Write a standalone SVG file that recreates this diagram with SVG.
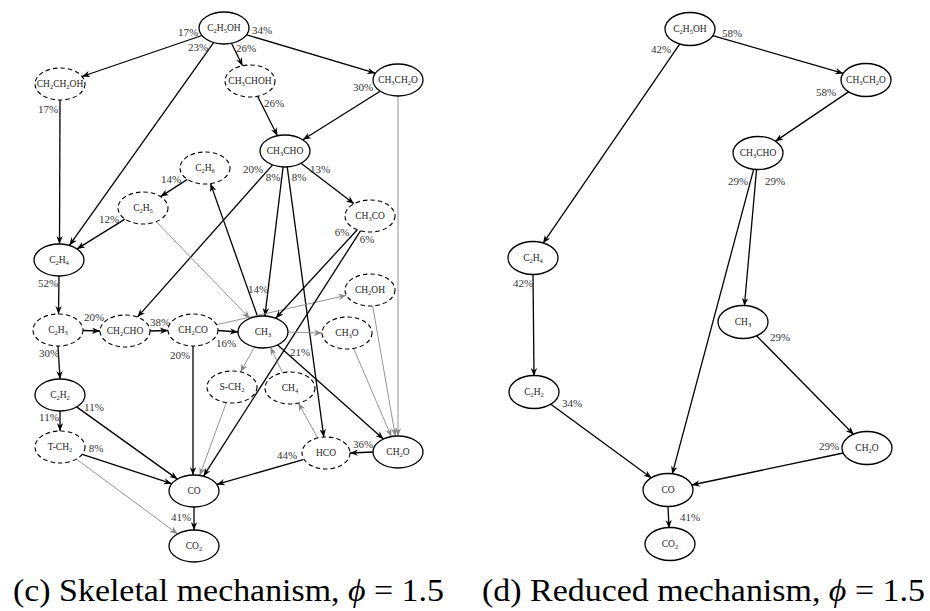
<svg xmlns="http://www.w3.org/2000/svg" width="930" height="611" viewBox="0 0 930 611">
<style>
.n{fill:#fff;stroke:#000;stroke-width:1.3}
.d{fill:#fff;stroke:#000;stroke-width:1.1;stroke-dasharray:4.5 3}
.e{stroke:#000;stroke-width:1.3;fill:none;marker-end:url(#ah)}
.g{stroke:#888;stroke-width:0.9;fill:none;marker-end:url(#ag)}
.t{font-family:"Liberation Serif","DejaVu Serif",serif;font-size:9.5px;fill:#222;text-anchor:middle}
.s{font-size:6.5px}
.p{font-family:"Liberation Serif","DejaVu Serif",serif;font-size:11px;fill:#333;text-anchor:middle}
.c{font-family:"Liberation Serif","DejaVu Serif",serif;font-size:31px;fill:#000}
</style>
<defs>
<marker id="ah" viewBox="0 0 10 8" refX="10" refY="4" markerWidth="8" markerHeight="6.4" orient="auto" markerUnits="userSpaceOnUse"><path d="M0,0 L10,4 L0,8 L3,4 z" fill="#000"/></marker>
<marker id="ag" viewBox="0 0 10 8" refX="10" refY="4" markerWidth="8" markerHeight="6.4" orient="auto" markerUnits="userSpaceOnUse"><path d="M0,0 L10,4 L0,8 L3,4 z" fill="#888"/></marker>
</defs>
<rect width="930" height="611" fill="#fff"/>

<g id="connectors">
<!-- left -->
<line class="e" x1="202" y1="35.5" x2="82" y2="76.5"/>
<line class="e" x1="213.6" y1="42.6" x2="69.4" y2="245.4"/>
<line class="e" x1="231.5" y1="43.3" x2="242.5" y2="65.7"/>
<line class="e" x1="246.7" y1="34.8" x2="375.3" y2="73.2"/>
<line class="e" x1="60" y1="100" x2="59.5" y2="244"/>
<line class="e" x1="257.6" y1="96.3" x2="277.4" y2="135.7"/>
<line class="e" x1="380.1" y1="91.2" x2="302.9" y2="139.8"/>
<line class="g" x1="398" y1="96" x2="398" y2="436"/>
<line class="e" x1="272.6" y1="164.9" x2="137.4" y2="317.1"/>
<line class="e" x1="283.1" y1="166.9" x2="264.9" y2="316.1"/>
<line class="e" x1="287.2" y1="166.9" x2="323.8" y2="437.1"/>
<line class="e" x1="301" y1="163.3" x2="354" y2="203.7"/>
<line class="e" x1="257.5" y1="316.4" x2="210.5" y2="183.6"/>
<line class="e" x1="187.4" y1="179.4" x2="160.6" y2="196.6"/>
<line class="e" x1="125" y1="219.1" x2="77" y2="248.9"/>
<line class="g" x1="156.2" y1="221.6" x2="249.8" y2="318.4"/>
<line class="e" x1="59" y1="276" x2="58.5" y2="314"/>
<line class="e" x1="83" y1="330.5" x2="100" y2="331"/>
<line class="e" x1="58" y1="346" x2="60" y2="379"/>
<line class="e" x1="150" y1="331" x2="168" y2="330.5"/>
<line class="e" x1="218" y1="330.5" x2="238" y2="332"/>
<line class="g" x1="216.6" y1="324.7" x2="346.4" y2="295.3"/>
<line class="e" x1="193" y1="346" x2="193" y2="475"/>
<line class="e" x1="357.3" y1="229.8" x2="275.7" y2="318.2"/>
<line class="e" x1="360.5" y1="230.8" x2="203.5" y2="476.2"/>
<line class="g" x1="288" y1="332" x2="322" y2="333"/>
<line class="g" x1="254.5" y1="347" x2="240.5" y2="372"/>
<line class="g" x1="282.6" y1="372.7" x2="270.4" y2="347.3"/>
<line class="e" x1="277.6" y1="345" x2="383.4" y2="439"/>
<line class="g" x1="317.6" y1="437.9" x2="298.4" y2="403.1"/>
<line class="g" x1="353.6" y1="348.4" x2="391.4" y2="436.6"/>
<line class="g" x1="372.7" y1="305.9" x2="395.3" y2="436.1"/>
<line class="e" x1="373" y1="452" x2="350" y2="453"/>
<line class="e" x1="303.2" y1="459.6" x2="216.8" y2="484.4"/>
<line class="e" x1="76.6" y1="406.9" x2="177.4" y2="479.1"/>
<line class="e" x1="60" y1="411" x2="60" y2="431"/>
<line class="e" x1="82.3" y1="454.3" x2="171.7" y2="483.7"/>
<line class="g" x1="76.4" y1="459.1" x2="177.6" y2="533.9"/>
<line class="g" x1="226.3" y1="402.6" x2="199.7" y2="475.4"/>
<line class="e" x1="194" y1="507" x2="194" y2="530"/>
<!-- right -->
<line class="e" x1="712.7" y1="35.6" x2="843.3" y2="73.4"/>
<line class="e" x1="680" y1="43.7" x2="543" y2="243.3"/>
<line class="e" x1="848.8" y1="91.6" x2="775.2" y2="141.4"/>
<line class="e" x1="753.8" y1="168.8" x2="672.2" y2="474.2"/>
<line class="e" x1="756.6" y1="169" x2="744.4" y2="306"/>
<line class="e" x1="533" y1="274" x2="534" y2="376"/>
<line class="e" x1="550.5" y1="404" x2="651.5" y2="478"/>
<line class="e" x1="756.3" y1="335.5" x2="853.7" y2="434.5"/>
<line class="e" x1="843.3" y1="453" x2="691.7" y2="485"/>
<line class="e" x1="668" y1="506" x2="669" y2="528"/>
</g>

<g id="edge-labels">
<text class="p" x="188" y="36">17%</text>
<text class="p" x="198" y="51">23%</text>
<text class="p" x="246" y="52">26%</text>
<text class="p" x="262" y="34">34%</text>
<text class="p" x="48" y="113">17%</text>
<text class="p" x="274" y="107">26%</text>
<text class="p" x="363" y="91">30%</text>
<text class="p" x="253" y="173">20%</text>
<text class="p" x="273" y="181">8%</text>
<text class="p" x="299" y="181">8%</text>
<text class="p" x="320" y="173">13%</text>
<text class="p" x="171" y="183">14%</text>
<text class="p" x="109" y="223">12%</text>
<text class="p" x="258" y="293">14%</text>
<text class="p" x="342" y="236">6%</text>
<text class="p" x="367" y="243">6%</text>
<text class="p" x="48" y="287">52%</text>
<text class="p" x="94" y="321">20%</text>
<text class="p" x="160" y="326">38%</text>
<text class="p" x="226" y="347">16%</text>
<text class="p" x="180" y="359">20%</text>
<text class="p" x="49" y="357">30%</text>
<text class="p" x="300" y="356">21%</text>
<text class="p" x="94" y="411">11%</text>
<text class="p" x="49" y="421">11%</text>
<text class="p" x="96" y="452">8%</text>
<text class="p" x="363" y="448">36%</text>
<text class="p" x="287" y="459">44%</text>
<text class="p" x="181" y="521">41%</text>
<text class="p" x="732" y="37">58%</text>
<text class="p" x="661" y="53">42%</text>
<text class="p" x="826" y="96">58%</text>
<text class="p" x="738" y="185">29%</text>
<text class="p" x="775" y="185">29%</text>
<text class="p" x="523" y="287">42%</text>
<text class="p" x="572" y="407">34%</text>
<text class="p" x="780" y="341">29%</text>
<text class="p" x="829" y="450">29%</text>
<text class="p" x="690" y="521">41%</text>
</g>

<!-- left nodes -->
<g id="L_C2H5OH"><ellipse class="n" cx="224" cy="28" rx="25" ry="16"/><text class="t" x="224" y="31.3">C<tspan class="s" dy="2">2</tspan><tspan dy="-2">H</tspan><tspan class="s" dy="2">5</tspan><tspan dy="-2">OH</tspan></text></g>
<g id="L_CH2CH2OH"><ellipse class="d" cx="60" cy="84" rx="25" ry="16"/><text class="t" x="60" y="87.3">CH<tspan class="s" dy="2">2</tspan><tspan dy="-2">CH</tspan><tspan class="s" dy="2">2</tspan><tspan dy="-2">OH</tspan></text></g>
<g id="L_CH3CHOH"><ellipse class="d" cx="250" cy="81" rx="25" ry="16"/><text class="t" x="250" y="84.3">CH<tspan class="s" dy="2">3</tspan><tspan dy="-2">CHOH</tspan></text></g>
<g id="L_CH3CH2O"><ellipse class="n" cx="398" cy="80" rx="25" ry="16"/><text class="t" x="398" y="83.3">CH<tspan class="s" dy="2">3</tspan><tspan dy="-2">CH</tspan><tspan class="s" dy="2">2</tspan><tspan dy="-2">O</tspan></text></g>
<g id="L_CH3CHO"><ellipse class="n" cx="285" cy="151" rx="25" ry="16"/><text class="t" x="285" y="154.3">CH<tspan class="s" dy="2">3</tspan><tspan dy="-2">CHO</tspan></text></g>
<g id="L_C2H6"><ellipse class="d" cx="205" cy="168" rx="25" ry="16"/><text class="t" x="205" y="171.3">C<tspan class="s" dy="2">2</tspan><tspan dy="-2">H</tspan><tspan class="s" dy="2">6</tspan></text></g>
<g id="L_C2H5"><ellipse class="d" cx="143" cy="208" rx="25" ry="16"/><text class="t" x="143" y="211.3">C<tspan class="s" dy="2">2</tspan><tspan dy="-2">H</tspan><tspan class="s" dy="2">5</tspan></text></g>
<g id="L_C2H4"><ellipse class="n" cx="59" cy="260" rx="25" ry="16"/><text class="t" x="59" y="263.3">C<tspan class="s" dy="2">2</tspan><tspan dy="-2">H</tspan><tspan class="s" dy="2">4</tspan></text></g>
<g id="L_CH3CO"><ellipse class="d" cx="370" cy="216" rx="25" ry="16"/><text class="t" x="370" y="219.3">CH<tspan class="s" dy="2">3</tspan><tspan dy="-2">CO</tspan></text></g>
<g id="L_CH2OH"><ellipse class="d" cx="370" cy="290" rx="25" ry="16"/><text class="t" x="370" y="293.3">CH<tspan class="s" dy="2">2</tspan><tspan dy="-2">OH</tspan></text></g>
<g id="L_CH3"><ellipse class="n" cx="263" cy="332" rx="25" ry="16"/><text class="t" x="263" y="335.3">CH<tspan class="s" dy="2">3</tspan></text></g>
<g id="L_CH3O"><ellipse class="d" cx="347" cy="333" rx="25" ry="16"/><text class="t" x="347" y="336.3">CH<tspan class="s" dy="2">3</tspan><tspan dy="-2">O</tspan></text></g>
<g id="L_CH2CO"><ellipse class="d" cx="193" cy="330" rx="25" ry="16"/><text class="t" x="193" y="333.3">CH<tspan class="s" dy="2">2</tspan><tspan dy="-2">CO</tspan></text></g>
<g id="L_CH2CHO"><ellipse class="d" cx="125" cy="331" rx="25" ry="16"/><text class="t" x="125" y="334.3">CH<tspan class="s" dy="2">2</tspan><tspan dy="-2">CHO</tspan></text></g>
<g id="L_C2H3"><ellipse class="d" cx="58" cy="330" rx="25" ry="16"/><text class="t" x="58" y="333.3">C<tspan class="s" dy="2">2</tspan><tspan dy="-2">H</tspan><tspan class="s" dy="2">3</tspan></text></g>
<g id="L_C2H2"><ellipse class="n" cx="60" cy="395" rx="25" ry="16"/><text class="t" x="60" y="398.3">C<tspan class="s" dy="2">2</tspan><tspan dy="-2">H</tspan><tspan class="s" dy="2">2</tspan></text></g>
<g id="L_TCH2"><ellipse class="d" cx="60" cy="447" rx="25" ry="16"/><text class="t" x="60" y="450.3">T-CH<tspan class="s" dy="2">2</tspan></text></g>
<g id="L_SCH2"><ellipse class="d" cx="232" cy="387" rx="25" ry="16"/><text class="t" x="232" y="390.3">S-CH<tspan class="s" dy="2">2</tspan></text></g>
<g id="L_CH4"><ellipse class="d" cx="290" cy="388" rx="25" ry="16"/><text class="t" x="290" y="391.3">CH<tspan class="s" dy="2">4</tspan></text></g>
<g id="L_HCO"><ellipse class="d" cx="326" cy="453" rx="24" ry="16"/><text class="t" x="326" y="456.3">HCO</text></g>
<g id="L_CH2O"><ellipse class="n" cx="398" cy="452" rx="25" ry="16"/><text class="t" x="398" y="455.3">CH<tspan class="s" dy="2">2</tspan><tspan dy="-2">O</tspan></text></g>
<g id="L_CO"><ellipse class="n" cx="194" cy="491" rx="25" ry="16"/><text class="t" x="194" y="494.3">CO</text></g>
<g id="L_CO2"><ellipse class="n" cx="194" cy="546" rx="25" ry="16"/><text class="t" x="194" y="549.3">CO<tspan class="s" dy="2">2</tspan></text></g>

<!-- right nodes -->
<g id="R_C2H5OH"><ellipse class="n" cx="690" cy="29" rx="25" ry="16.5"/><text class="t" x="690" y="32.3">C<tspan class="s" dy="2">2</tspan><tspan dy="-2">H</tspan><tspan class="s" dy="2">5</tspan><tspan dy="-2">OH</tspan></text></g>
<g id="R_CH3CH2O"><ellipse class="n" cx="866" cy="80" rx="25" ry="16.5"/><text class="t" x="866" y="83.3">CH<tspan class="s" dy="2">3</tspan><tspan dy="-2">CH</tspan><tspan class="s" dy="2">2</tspan><tspan dy="-2">O</tspan></text></g>
<g id="R_CH3CHO"><ellipse class="n" cx="758" cy="153" rx="25" ry="16.5"/><text class="t" x="758" y="156.3">CH<tspan class="s" dy="2">3</tspan><tspan dy="-2">CHO</tspan></text></g>
<g id="R_C2H4"><ellipse class="n" cx="533" cy="258" rx="25" ry="16.5"/><text class="t" x="533" y="261.3">C<tspan class="s" dy="2">2</tspan><tspan dy="-2">H</tspan><tspan class="s" dy="2">4</tspan></text></g>
<g id="R_CH3"><ellipse class="n" cx="743" cy="322" rx="25" ry="16.5"/><text class="t" x="743" y="325.3">CH<tspan class="s" dy="2">3</tspan></text></g>
<g id="R_C2H2"><ellipse class="n" cx="534" cy="392" rx="25" ry="16.5"/><text class="t" x="534" y="395.3">C<tspan class="s" dy="2">2</tspan><tspan dy="-2">H</tspan><tspan class="s" dy="2">2</tspan></text></g>
<g id="R_CH2O"><ellipse class="n" cx="867" cy="448" rx="25" ry="16.5"/><text class="t" x="867" y="451.3">CH<tspan class="s" dy="2">2</tspan><tspan dy="-2">O</tspan></text></g>
<g id="R_CO"><ellipse class="n" cx="668" cy="490" rx="25" ry="16.5"/><text class="t" x="668" y="493.3">CO</text></g>
<g id="R_CO2"><ellipse class="n" cx="670" cy="544" rx="25" ry="16.5"/><text class="t" x="670" y="547.3">CO<tspan class="s" dy="2">2</tspan></text></g>

<g id="captions">
<text class="c" x="13" y="601" textLength="431" lengthAdjust="spacingAndGlyphs">(c) Skeletal mechanism, <tspan font-style="italic">ϕ</tspan> = 1.5</text>
<text class="c" x="482" y="601" textLength="443" lengthAdjust="spacingAndGlyphs">(d) Reduced mechanism, <tspan font-style="italic">ϕ</tspan> = 1.5</text>
</g>
</svg>
